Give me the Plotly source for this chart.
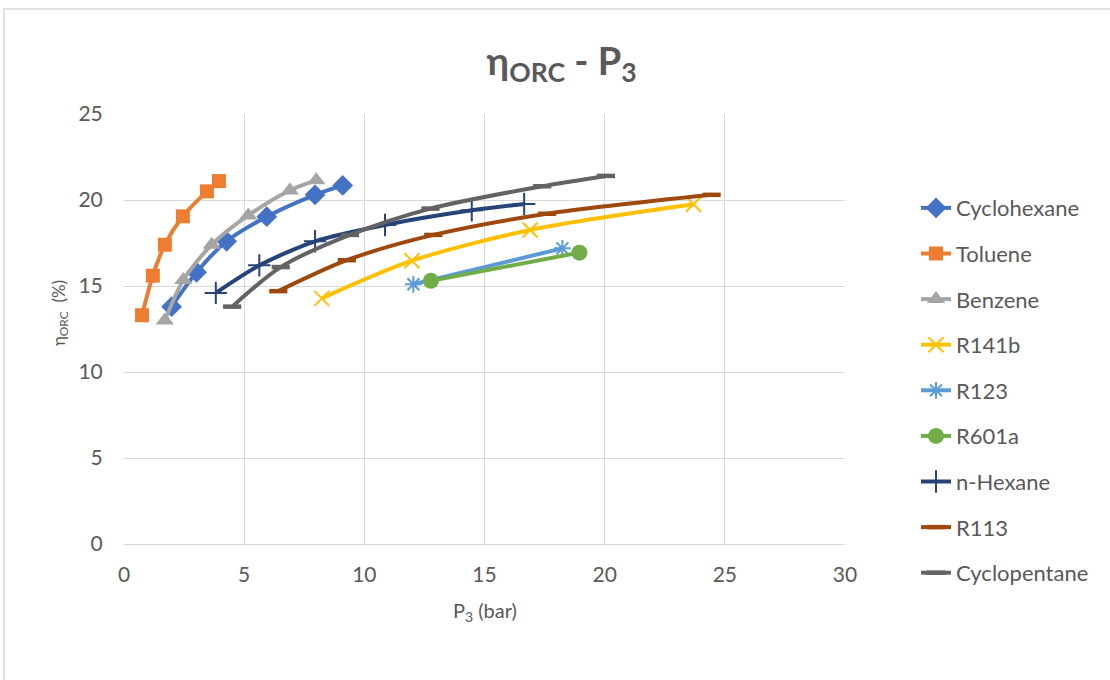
import plotly.graph_objects as go

# Evaporator pressure P3 (bar) and cycle efficiency (%) for each working fluid
cyclohexane_p = [1.98, 3.02, 4.27, 5.94, 7.95, 9.1]
cyclohexane_eta = [13.8, 15.8, 17.6, 19.03, 20.3, 20.85]

toluene_p = [0.75, 1.2, 1.7, 2.45, 3.45, 3.95]
toluene_eta = [13.3, 15.6, 17.4, 19.05, 20.5, 21.1]

benzene_p = [1.7, 2.47, 3.65, 5.17, 6.9, 8.0]
benzene_eta = [13.0, 15.35, 17.4, 19.1, 20.55, 21.15]

r141b_p = [8.23, 11.98, 16.9, 23.7]
r141b_eta = [14.28, 16.47, 18.26, 19.75]

r123_p = [12.04, 18.24]
r123_eta = [15.1, 17.19]

r601a_p = [12.77, 18.95]
r601a_eta = [15.3, 16.94]

nhexane_p = [3.82, 5.63, 7.95, 10.86, 14.47, 16.65]
nhexane_eta = [14.6, 16.2, 17.6, 18.55, 19.4, 19.77]

r113_p = [6.42, 9.27, 12.87, 17.6, 24.45]
r113_eta = [14.7, 16.5, 17.97, 19.2, 20.3]

cyclopentane_p = [4.5, 6.52, 9.4, 12.75, 17.4, 20.05]
cyclopentane_eta = [13.8, 16.1, 17.97, 19.5, 20.8, 21.4]

x_ticks = [0, 5, 10, 15, 20, 25, 30]
y_ticks = [0, 5, 10, 15, 20, 25]

FONT = "Lato, 'Open Sans', sans-serif"
TEXT = "#595959"
GRID = "#D9D9D9"

# name, x, y, colour, marker symbol, marker size, marker outline width
series = [
    ("Cyclohexane", cyclohexane_p, cyclohexane_eta, "#4472C4", "diamond", 16, 0),
    ("Toluene", toluene_p, toluene_eta, "#ED7D31", "square", 14, 0),
    ("Benzene", benzene_p, benzene_eta, "#A5A5A5", "triangle-up", 16, 0),
    ("R141b", r141b_p, r141b_eta, "#FFC000", "x-thin", 15, 2),
    ("R123", r123_p, r123_eta, "#5B9BD5", "asterisk", 14, 2),
    ("R601a", r601a_p, r601a_eta, "#70AD47", "circle", 16, 0),
    ("n-Hexane", nhexane_p, nhexane_eta, "#264478", "cross-thin", 16, 2),
    ("R113", r113_p, r113_eta, "#9E480E", "line-ew", 13, 4.5),
    ("Cyclopentane", cyclopentane_p, cyclopentane_eta, "#636363", "line-ew", 13, 4.5),
]

fig = go.Figure()
for i, (name, xs, ys, color, symbol, size, lw) in enumerate(series):
    fig.add_trace(go.Scatter(
        x=xs, y=ys, name=name, mode="lines+markers",
        line=dict(color=color, width=4, shape="spline", smoothing=0.8),
        marker=dict(symbol=symbol, size=size, color=color,
                    line=dict(color=color, width=lw)),
        legendgroup=f"g{i}",
    ))

fig.update_layout(
    width=1110, height=680,
    paper_bgcolor="white", plot_bgcolor="white",
    margin=dict(l=124, r=265, t=114, b=136),
    font=dict(family=FONT, color=TEXT, size=21),
    title=dict(
        text="<b>η<sub>ORC</sub> - P<sub>3</sub></b>",
        x=0.506, xanchor="center", y=0.91, yanchor="middle",
        font=dict(family=FONT, size=38, color=TEXT),
    ),
    xaxis=dict(
        range=[0, 30], tickvals=x_ticks, showgrid=True, gridcolor=GRID,
        gridwidth=1, zeroline=False, showline=True, linecolor=GRID,
        ticks="outside", ticklen=12, tickcolor="rgba(0,0,0,0)",
        tickfont=dict(size=21, color=TEXT),
    ),
    yaxis=dict(
        range=[0, 25], tickvals=y_ticks, showgrid=True, gridcolor=GRID,
        gridwidth=1, zeroline=False, showline=False,
        ticks="outside", ticklen=16, tickcolor="rgba(0,0,0,0)",
        tickfont=dict(size=21, color=TEXT),
    ),
    legend=dict(
        x=1.0985, xanchor="left", y=0.83, yanchor="top",
        font=dict(size=22, color=TEXT), tracegroupgap=14,
        itemwidth=30, bgcolor="rgba(0,0,0,0)",
    ),
    annotations=[
        dict(text="P<sub>3</sub> (bar)", xref="paper", yref="paper",
             x=0.5, y=-0.158, xanchor="center", yanchor="middle",
             showarrow=False, font=dict(size=20, color=TEXT)),
        dict(text="η<sub>ORC</sub>  (%)", xref="paper", yref="paper",
             x=-0.0888, y=0.537, xanchor="center", yanchor="middle",
             textangle=-90, showarrow=False, font=dict(size=17, color=TEXT)),
    ],
    shapes=[dict(type="rect", xref="paper", yref="paper",
                 x0=-0.1664, x1=1.6, y0=-0.4, y1=1.244,
                 line=dict(color=GRID, width=1.5))],
)

fig.write_html("out.html")
